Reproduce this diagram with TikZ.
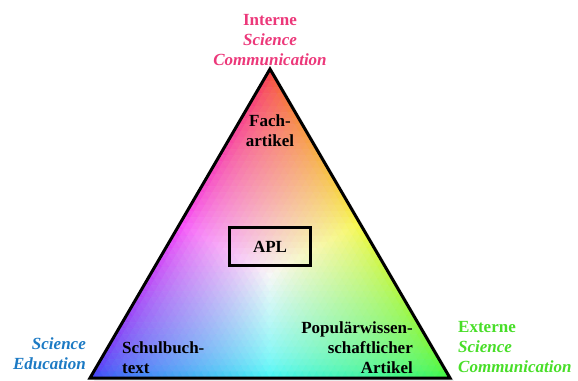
\documentclass[tikz,border=0pt]{standalone}
\usepackage{fontspec}
\setmainfont{Liberation Serif}
\definecolor{intpink}{RGB}{236,56,122}
\definecolor{edublue}{RGB}{28,122,196}
\definecolor{extgreen}{RGB}{72,222,40}
\begin{document}
\begin{tikzpicture}[x=1pt,y=-1pt,
  lbl/.style={font=\fontsize{17}{20}\selectfont\bfseries, inner sep=0pt},
  tri/.style={draw=black, line width=3pt, line join=miter},
  aplbox/.style={draw=black, line width=3.2pt, minimum width=81pt, minimum height=38pt, inner sep=0pt, font=\fontsize{17}{20}\selectfont\bfseries}]
\useasboundingbox (0,0) rectangle (578,380);
\coordinate (A) at (270,69);
\coordinate (L) at (90,378);
\coordinate (R) at (450,378);
% soft shadow
\fill[black, opacity=0.07] ([shift={(4,3)}]A) -- ([shift={(4,3)}]R) -- ([shift={(4,3)}]L) -- cycle;
% colour field
\def\NN{50}
\def\gam{0.45}
\def\lift{0.18}
\foreach \i in {0,...,49} {
  \foreach \j in {0,...,\i} {
    \pgfmathsetmacro{\wa}{1-(\i+2/3)/\NN}
    \pgfmathsetmacro{\wg}{(\j+1/3)/\NN}
    \pgfmathsetmacro{\wb}{(\i-\j+1/3)/\NN}
    \pgfmathsetmacro{\mm}{max(\wa,\wg,\wb)}
    \pgfmathsetmacro{\cr}{\lift+(0.97-\lift)*(\wa/\mm)^\gam}
    \pgfmathsetmacro{\cg}{\lift+(0.97-\lift)*(\wg/\mm)^\gam}
    \pgfmathsetmacro{\cb}{\lift+(0.97-\lift)*(\wb/\mm)^\gam}
    \definecolor{tc}{rgb}{\cr,\cg,\cb}
    \fill[tc, draw=tc, line width=0.5pt]
      ({270+3.6*(2*\j-\i)},{69+6.18*\i}) --
      ({270+3.6*(2*\j-\i-1)},{69+6.18*(\i+1)}) --
      ({270+3.6*(2*\j-\i+1)},{69+6.18*(\i+1)}) -- cycle;
    \ifnum\j<\i
      \pgfmathsetmacro{\wa}{1-(\i+1/3)/\NN}
      \pgfmathsetmacro{\wg}{(\j+2/3)/\NN}
      \pgfmathsetmacro{\wb}{(\i-\j-1/3)/\NN}
      \pgfmathsetmacro{\mm}{max(\wa,\wg,\wb)}
      \pgfmathsetmacro{\cr}{\lift+(0.97-\lift)*(\wa/\mm)^\gam}
      \pgfmathsetmacro{\cg}{\lift+(0.97-\lift)*(\wg/\mm)^\gam}
      \pgfmathsetmacro{\cb}{\lift+(0.97-\lift)*(\wb/\mm)^\gam}
      \definecolor{tc}{rgb}{\cr,\cg,\cb}
      \fill[tc, draw=tc, line width=0.5pt]
        ({270+3.6*(2*\j-\i)},{69+6.18*\i}) --
        ({270+3.6*(2*\j-\i+2)},{69+6.18*\i}) --
        ({270+3.6*(2*\j-\i+1)},{69+6.18*(\i+1)}) -- cycle;
    \fi
  }
}
\draw[tri] (A) -- (R) -- (L) -- cycle;
% labels
\node[lbl, text=intpink, align=center] (int) at (270,40) {Interne\\\itshape Science\\\itshape Communication};
\node[lbl, text=edublue, align=right, anchor=east] (edu) at (86,354) {\itshape Science\\\itshape Education};
\node[lbl, text=extgreen, align=left, anchor=west] (ext) at (458,347) {Externe\\\itshape Science\\\itshape Communication};
\node[lbl, align=center] (fach) at (270,131) {Fach-\\artikel};
\node[lbl, align=left, anchor=west] (schul) at (122,358) {Schulbuch-\\text};
\node[lbl, align=right, anchor=east] (pop) at (413,348) {Populärwissen-\\schaftlicher\\Artikel};
\node[aplbox] (apl) at (270,246.5) {APL};
\end{tikzpicture}
\end{document}
